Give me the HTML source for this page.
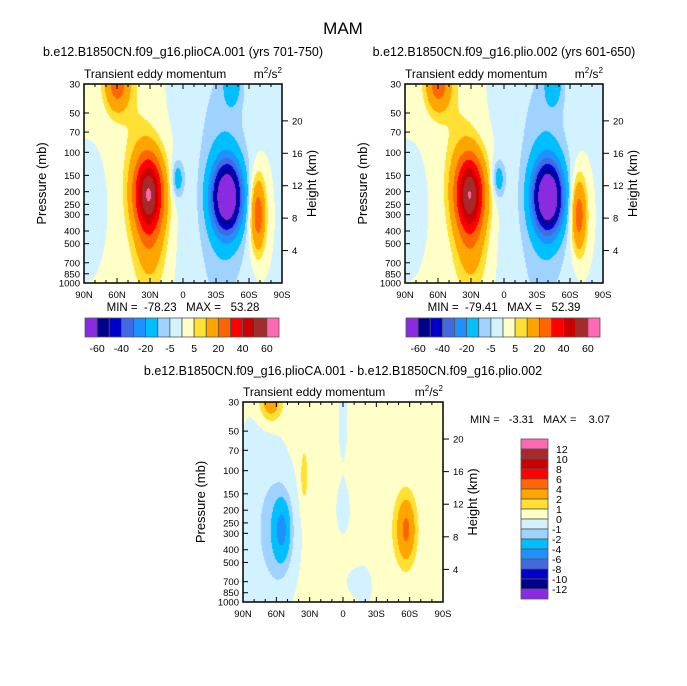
<!DOCTYPE html>
<html><head><meta charset="utf-8">
<style>
html,body{margin:0;padding:0;background:#fff;}
#root{position:relative;width:687px;height:686px;overflow:hidden;font-family:"Liberation Sans",sans-serif;}
canvas{position:absolute;}
svg{position:absolute;left:0;top:0;}
text{white-space:pre;}
</style></head>
<body>
<div id="root">
<canvas id="c1"></canvas>
<canvas id="c2"></canvas>
<canvas id="c3"></canvas>
<svg id="s" width="687" height="686"></svg>
</div>
<script>
// ---- data ----
const levelsTop=[-60,-50,-40,-30,-20,-10,-5,0,5,10,20,30,40,50,60];
const levelsDiff=[-12,-10,-8,-6,-4,-2,-1,0,1,2,4,6,8,10,12];
const topBarLabels=["-60","-40","-20","-5","5","20","40","60"];
const diffBarLabels=["12","10","8","6","4","2","1","0","-1","-2","-4","-6","-8","-10","-12"];
const palette=["#8a2be2","#00008b","#0000cd","#4169e1","#1e90ff","#00bfff","#a0d2ff","#d2f2ff","#ffffc8","#ffe033","#ffa500","#ff6600","#ff0000","#cc0000","#a52a2a","#ff69b4"];
const latTicks=[90,60,30,0,-30,-60,-90];
const latTickLabels=["90N","60N","30N","0","30S","60S","90S"];
const presTicks=[30,50,70,100,150,200,250,300,400,500,700,850,1000];
const heightTicks=[4,8,12,16,20];
// feature blobs (lat, pressure mb, amplitude, lat width deg, log10-p width)
const p1Lat=[31,30,42,60,-40,-38,-30,-68,5,-45,80];
const p1P=[205,550,100,30,220,200,200,300,160,30,250];
const p1Amp=[56,12,5,25,-80,-8,-3,28,-14,-12,-4];
const p1WLat=[9.5,10,12,8,9,15,22,5,4,6,5];
const p1WP=[0.21,0.25,0.5,0.15,0.18,0.55,2,0.2,0.1,0.12,0.15];
const p2Lat=[31,30,42,60,-40,-38,-30,-68,5,-45,80];
const p2P=[205,550,100,30,220,200,200,300,160,30,250];
const p2Amp=[55,12,5,25,-81,-8,-3,27,-14,-12,-4];
const p2WLat=[9.5,10,12,8,9,15,22,5,4,6,5];
const p2WP=[0.21,0.25,0.5,0.15,0.18,0.55,2,0.2,0.1,0.12,0.15];
const dLat=[55,56,-57,-55,65,35,75,0,0,-20,-10];
const dP=[280,300,280,280,30,110,250,200,40,800,700];
const dAmp=[-3.3,-1.6,3.1,1.2,3,1.4,-1,-0.6,-0.5,-0.4,-0.4];
const dWLat=[5,10,5,9,7,2.5,15,5,4,6,8];
const dWP=[0.15,0.3,0.15,0.22,0.1,0.15,0.6,0.15,0.3,0.15,0.1];
const diffBase=0.3;

const SVGNS="http://www.w3.org/2000/svg";
const svg=document.getElementById('s');
function el(tag,attrs,parent){const e=document.createElementNS(SVGNS,tag);for(const k in attrs)e.setAttribute(k,attrs[k]);(parent||svg).appendChild(e);return e;}
function txt(x,y,s,size,anchor,name,extra){const t=el('text',Object.assign({x:x,y:y,'font-size':size,'text-anchor':anchor||'middle',fill:'#000','font-family':'Liberation Sans, sans-serif'},extra||{}));t.textContent=s;return t;}

const LP0=Math.log10(30),LP1=Math.log10(1000);
function makeAxes(x0,y0,w,h){
  return {x:lat=>x0+(90-lat)/180*w, y:p=>y0+(Math.log10(p)-LP0)/(LP1-LP0)*h};
}
function field(lat,p,la,pa,am,wl,wp,base){
  let v=base||0;const lp=Math.log10(p);
  for(let i=0;i<la.length;i++){const a=(lat-la[i])/wl[i],b=(lp-Math.log10(pa[i]))/wp[i];v+=am[i]*Math.exp(-0.5*(a*a+b*b));}
  return v;
}
function colorIdx(v,levels){let k=0;while(k<levels.length&&v>=levels[k])k++;return k;}
function hex(c){return [parseInt(c.substr(1,2),16),parseInt(c.substr(3,2),16),parseInt(c.substr(5,2),16)];}
const rgb=palette.map(hex);

function drawPanel(cid,x0,y0,w,h,la,pa,am,wl,wp,base,levels,pre){
  const cv=document.getElementById(cid);cv.width=w;cv.height=h;cv.style.left=x0+'px';cv.style.top=y0+'px';
  const ctx=cv.getContext('2d');const img=ctx.createImageData(w,h);
  for(let j=0;j<h;j++){const p=Math.pow(10,LP0+(j+0.5)/h*(LP1-LP0));
    for(let i=0;i<w;i++){const lat=90-(i+0.5)/w*180;const c=rgb[colorIdx(field(lat,p,la,pa,am,wl,wp,base),levels)];
      const o=(j*w+i)*4;img.data[o]=c[0];img.data[o+1]=c[1];img.data[o+2]=c[2];img.data[o+3]=255;}}
  ctx.putImageData(img,0,0);
  const ax=makeAxes(x0,y0,w,h);
  const g=el('g',{});
  el('rect',{x:x0,y:y0,width:w,height:h,fill:'none',stroke:'#000','stroke-width':1.5},g);
  latTicks.forEach((lat,i)=>{const x=ax.x(lat);
    el('line',{x1:x,y1:y0+h,x2:x,y2:y0+h-5,stroke:'#000'},g);el('line',{x1:x,y1:y0,x2:x,y2:y0+5,stroke:'#000'},g);
    txt(x,y0+h+15,latTickLabels[i],9.5,'middle',pre+'-x-tick-label');});
  for(let lat=80;lat>-90;lat-=10){if(lat%30===0)continue;const x=ax.x(lat);
    el('line',{x1:x,y1:y0+h,x2:x,y2:y0+h-3,stroke:'#000'},g);el('line',{x1:x,y1:y0,x2:x,y2:y0+3,stroke:'#000'},g);}
  presTicks.forEach(p=>{const y=ax.y(p);el('line',{x1:x0,y1:y,x2:x0+5,y2:y,stroke:'#000'},g);
    txt(x0-4,y+3.5,String(p),9.5,'end',pre+'-y-tick-label');});
  heightTicks.forEach(z=>{const y=ax.y(1000*Math.exp(-z/7));el('line',{x1:x0+w,y1:y,x2:x0+w+6,y2:y,stroke:'#000'},g);
    txt(x0+w+10,y+3.5,String(z),9.5,'start',pre+'-height-tick-label');});
  txt(0,0,'Pressure (mb)',13,'middle',pre+'-y-axis-title',{transform:`translate(${x0-38},${y0+h/2}) rotate(-90)`});
  txt(0,0,'Height (km)',13,'middle',pre+'-right-axis-title',{transform:`translate(${x0+w+34},${y0+h/2}) rotate(-90)`});
  txt(x0,y0-6,'Transient eddy momentum',12,'start',pre+'-variable-title');
  const u=txt(x0+w,y0-6,'',12,'end',pre+'-units');u.innerHTML='m<tspan dy="-5" font-size="8">2</tspan><tspan dy="5">/s</tspan><tspan dy="-5" font-size="8">2</tspan>';
}
function hbar(x0,y0,w,h,labels,pre){
  const bw=w/16;
  palette.forEach((c,i)=>{const r=el('rect',{x:x0+i*bw,y:y0,width:bw,height:h,fill:c,stroke:'#555','stroke-width':0.8});
    });
  labels.forEach((s,i)=>txt(x0+(1+2*i)*bw,y0+h+15,s,10.5,'middle',pre+'-colorbar-label'));
}
function vbar(x0,y0,w,h,labels){
  const bh=h/16;
  palette.slice().reverse().forEach((c,i)=>{const r=el('rect',{x:x0,y:y0+i*bh,width:w,height:bh,fill:c,stroke:'#555','stroke-width':0.8});
    });
  labels.forEach((s,i)=>txt(x0+w+4+(s[0]==='-'?0:4),y0+(i+1)*bh+4,s,10.5,'start','diff-colorbar-label'));
}

txt(343,34,'MAM',17,'middle','figure-title');
txt(183,56,'b.e12.B1850CN.f09_g16.plioCA.001 (yrs 701-750)',12.5,'middle','left-panel-title');
txt(504,56,'b.e12.B1850CN.f09_g16.plio.002 (yrs 601-650)',12.5,'middle','right-panel-title');
drawPanel('c1',84,84,198,199,p1Lat,p1P,p1Amp,p1WLat,p1WP,0,levelsTop,'left');
drawPanel('c2',405,84,198,199,p2Lat,p2P,p2Amp,p2WLat,p2WP,0,levelsTop,'right');
txt(183,311,'MIN =  -78.23   MAX =   53.28',11.5,'middle','left-min-max');
txt(504,311,'MIN =  -79.41   MAX =   52.39',11.5,'middle','right-min-max');
hbar(85,318,194,19,topBarLabels,'left');
hbar(406,318,194,19,topBarLabels,'right');
txt(343,375,'b.e12.B1850CN.f09_g16.plioCA.001 - b.e12.B1850CN.f09_g16.plio.002',12.5,'middle','difference-panel-title');
drawPanel('c3',243,402,200,200,dLat,dP,dAmp,dWLat,dWP,diffBase,levelsDiff,'diff');
txt(470,423,'MIN =   -3.31   MAX =    3.07',11,'start','diff-min-max');
vbar(521,439,27,160,diffBarLabels);
</script>
</body></html>
